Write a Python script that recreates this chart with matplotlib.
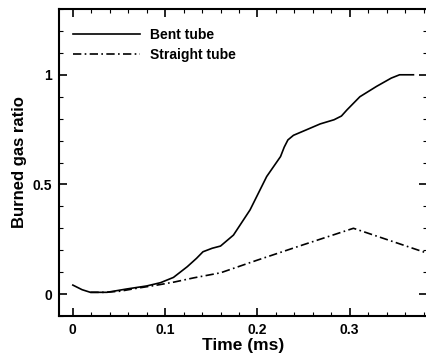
import matplotlib
matplotlib.use("Agg")
import matplotlib.pyplot as plt
from matplotlib.ticker import MultipleLocator

plt.rcParams['font.family'] = ['Liberation Sans', 'DejaVu Sans']

# bent tube (solid)
bent_t = [0.0, 0.01, 0.019, 0.037, 0.058, 0.08, 0.095, 0.109, 0.124, 0.134, 0.141,
          0.151, 0.16, 0.174, 0.192, 0.21, 0.225, 0.229, 0.233, 0.239, 0.253, 0.268,
          0.283, 0.291, 0.297, 0.311, 0.329, 0.345, 0.354, 0.369]
bent_r = [0.041, 0.02, 0.008, 0.008, 0.023, 0.037, 0.052, 0.076, 0.125, 0.163, 0.193,
          0.209, 0.219, 0.269, 0.384, 0.536, 0.627, 0.67, 0.703, 0.724, 0.749, 0.776,
          0.795, 0.812, 0.84, 0.90, 0.947, 0.985, 1.0, 1.0]

# straight tube (dash-dot)
straight_t = [0.019, 0.035, 0.051, 0.07, 0.09, 0.11, 0.131, 0.16, 0.2, 0.249, 0.304, 0.34, 0.39]
straight_r = [0.008, 0.008, 0.013, 0.027, 0.04, 0.055, 0.074, 0.097, 0.155, 0.224, 0.30, 0.249, 0.178]

fig = plt.figure(figsize=(4.26, 3.53), dpi=100)
ax = fig.add_axes([0.1385, 0.1048, 0.8645, 0.8697])

ax.plot(bent_t, bent_r, color='black', lw=1.2, label='Bent tube')
ax.plot(straight_t, straight_r, color='black', lw=1.2, dashes=(5, 2, 1, 2),
        label='Straight tube')

ax.set_xlim(-0.015, 0.384)
ax.set_ylim(-0.1, 1.3)
ax.xaxis.set_minor_locator(MultipleLocator(0.02))
ax.yaxis.set_minor_locator(MultipleLocator(0.1))
ax.set_xticks([0, 0.1, 0.2, 0.3])
ax.set_xticklabels(['0', '0.1', '0.2', '0.3'])
ax.set_yticks([0, 0.5, 1])
ax.set_yticklabels(['0', '0.5', '1'])

ax.tick_params(which='both', direction='in', top=True, right=True, width=1.2)
ax.tick_params(which='major', length=6, labelsize=10, pad=5)
ax.tick_params(which='minor', length=3, width=0.8)
for lab in ax.get_xticklabels() + ax.get_yticklabels():
    lab.set_fontweight('bold')
for s in ax.spines.values():
    s.set_linewidth(1.5)

ax.set_xlabel('Time (ms)', fontsize=12.5, fontweight='bold', labelpad=1)
ax.set_ylabel('Burned gas ratio', fontsize=12, fontweight='bold', labelpad=4)

leg = ax.legend(loc='upper left', bbox_to_anchor=(0.0, 0.983), frameon=False,
                handlelength=4.8, handletextpad=0.75, labelspacing=0.45,
                borderaxespad=0.6, prop={'weight': 'bold', 'size': 10})

fig.savefig('out.png', dpi=100)
